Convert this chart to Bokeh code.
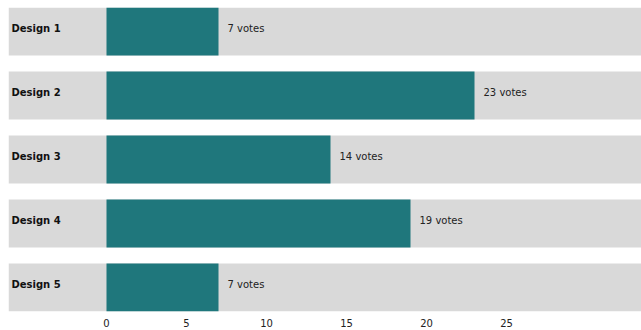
from bokeh.plotting import figure
from bokeh.models import ColumnDataSource, FixedTicker
from bokeh.core.properties import value
from bokeh.embed import file_html
from bokeh.resources import INLINE

designs = ["Design 1", "Design 2", "Design 3", "Design 4", "Design 5"]
votes = [7, 23, 14, 19, 7]
tick_values = [0, 5, 10, 15, 20, 25]

X_START, X_END = -6.125, 33.4375
ypos = [-i for i in range(len(designs))]

src = ColumnDataSource(dict(
    y=ypos,
    name=designs,
    votes=votes,
    label=[f"{v} votes" for v in votes],
    left=[X_START] * len(designs),
    right=[X_END] * len(designs),
    zero=[0] * len(designs),
    lx=[X_START] * len(designs),
))

p = figure(width=641, height=330, output_backend="svg", toolbar_location=None,
           x_range=(X_START, X_END), y_range=(-4.375, 0.375),
           min_border_left=8, min_border_right=0, min_border_top=7, min_border_bottom=19)
p.outline_line_color = None
p.grid.visible = False
p.yaxis.visible = False
p.background_fill_color = "white"

p.hbar(y="y", left="left", right="right", height=0.75, source=src,
       fill_color="#d9d9d9", line_color=None)
p.hbar(y="y", left="zero", right="votes", height=0.75, source=src,
       fill_color="#1f777c", line_color=None)

p.text(x="lx", y="y", text="name", source=src, x_offset=3, y_offset=-3,
       text_font=value("DejaVu Sans"), text_font_style="bold", text_font_size="10px",
       text_color="#111111", text_baseline="middle", text_align="left")
p.text(x="votes", y="y", text="label", source=src, x_offset=9, y_offset=-3,
       text_font=value("DejaVu Sans"), text_font_size="10px",
       text_color="#222222", text_baseline="middle", text_align="left")

ax = p.xaxis[0]
ax.ticker = FixedTicker(ticks=tick_values)
ax.axis_line_color = None
ax.major_tick_line_color = None
ax.minor_tick_line_color = None
ax.major_label_standoff = 1
ax.major_label_text_font = "DejaVu Sans"
ax.major_label_text_font_size = "10px"
ax.major_label_text_color = "#222222"

open("out.html", "w").write(file_html(p, INLINE))
